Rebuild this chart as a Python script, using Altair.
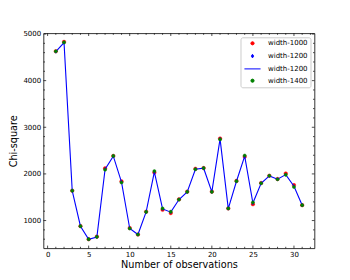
import altair as alt
import pandas as pd

obs = list(range(1, 32))
chi_1000 = [4630, 4830, 1640, 880, 600, 655, 2120, 2385, 1840, 840, 700, 1190, 2030, 1230, 1160,
            1455, 1620, 2110, 2125, 1620, 2760, 1260, 1850, 2370, 1350, 1805, 1960, 1890, 2010, 1760, 1330]
chi_1200 = [4620, 4815, 1635, 878, 599, 648, 2100, 2380, 1825, 830, 700, 1185, 2045, 1250, 1180,
            1450, 1614, 2100, 2122, 1614, 2750, 1257, 1843, 2380, 1375, 1800, 1957, 1886, 1985, 1735, 1328]
chi_1400 = [4630, 4820, 1640, 880, 600, 650, 2090, 2385, 1815, 830, 700, 1185, 2060, 1260, 1190,
            1450, 1615, 2100, 2125, 1615, 2740, 1260, 1845, 2395, 1390, 1800, 1960, 1885, 1980, 1720, 1330]

series = ["width-1000", "width-1200", "width-1200 ", "width-1400"]
fills = ["#ff0000", "#0000ff", "#0000ff", "#008000"]
shapes = ["circle", "M0,-1.15L0.7,0L0,1.15L-0.7,0Z", "M-5.1,0H5.1", "circle"]

x_major = [0, 5, 10, 15, 20, 25, 30]
x_minor = [v for v in range(0, 33) if v % 5 != 0]
y_major = [1000, 2000, 3000, 4000, 5000]
y_minor = [v for v in range(600, 5000, 200) if v % 1000 != 0]

W, H = 271, 215
MAJ, MIN = 2.7, 1.5

rows = []
for name, vals in [(series[0], chi_1000), (series[1], chi_1200), (series[3], chi_1400)]:
    for xv, yv in zip(obs, vals):
        rows.append({"s": name, "x": xv, "y": yv})
df = pd.DataFrame(rows)

xs = alt.Scale(domain=[-0.5, 32.5], nice=False, zero=False)
ys = alt.Scale(domain=[405, 5015], nice=False, zero=False)

xaxis = alt.Axis(values=x_major, format="d", ticks=False, tickSize=0, domain=False, grid=False,
                 labelFontSize=7, labelPadding=2.5, labelColor="black",
                 title="Number of observations", titleFontSize=9.7, titleFontWeight="normal",
                 titlePadding=2, titleColor="black")
yaxis = alt.Axis(values=y_major, format="d", ticks=False, tickSize=0, domain=False, grid=False,
                 labelFontSize=7, labelPadding=2.8, labelColor="black",
                 title="Chi-square", titleFontSize=9.7, titleFontWeight="normal",
                 titlePadding=4, titleColor="black")

leg = alt.Legend(title=None, orient="top-right", offset=4, padding=2.5, rowPadding=3.8,
                 labelFontSize=7, labelColor="black", labelExpr="trim(datum.label)",
                 symbolSize=10, symbolStrokeWidth=1, labelOffset=12, symbolOffset=6,
                 strokeColor="#cccccc", fillColor="white", cornerRadius=2)

enc = dict(
    x=alt.X("x:Q", scale=xs, axis=xaxis),
    y=alt.Y("y:Q", scale=ys, axis=yaxis),
    fill=alt.Fill("s:N", scale=alt.Scale(domain=series, range=fills), legend=leg),
    stroke=alt.Stroke("s:N", scale=alt.Scale(domain=series, range=fills), legend=leg),
    shape=alt.Shape("s:N", scale=alt.Scale(domain=series, range=shapes), legend=leg),
)

base = alt.Chart(df)
red = base.transform_filter(alt.datum.s == series[0]).mark_point(size=13, strokeWidth=0.4, opacity=1).encode(**enc)
blue = base.transform_filter(alt.datum.s == series[1]).mark_point(size=8, strokeWidth=0.4, opacity=1).encode(**enc)
green = base.transform_filter(alt.datum.s == series[3]).mark_point(size=10, strokeWidth=0.4, opacity=1).encode(**enc)
line = base.transform_filter(alt.datum.s == series[1]).mark_line(color="#0000ff", strokeWidth=1.1).encode(
    x=alt.X("x:Q", scale=xs, axis=xaxis), y=alt.Y("y:Q", scale=ys, axis=yaxis))


def xticks(vals, length, top):
    d = pd.DataFrame({"x": vals})
    if top:
        yy, yy2 = alt.value(0), alt.value(length)
    else:
        yy, yy2 = alt.value(H), alt.value(H - length)
    return alt.Chart(d).mark_rule(color="black", strokeWidth=0.7).encode(
        x=alt.X("x:Q", scale=xs, axis=xaxis), y=yy, y2=yy2)


def yticks(vals, length, right):
    d = pd.DataFrame({"y": vals})
    if right:
        xx, xx2 = alt.value(W), alt.value(W - length)
    else:
        xx, xx2 = alt.value(0), alt.value(length)
    return alt.Chart(d).mark_rule(color="black", strokeWidth=0.7).encode(
        y=alt.Y("y:Q", scale=ys, axis=yaxis), x=xx, x2=xx2)


ticks = [xticks(x_major, MAJ, False), xticks(x_minor, MIN, False),
         xticks(x_major, MAJ, True), xticks(x_minor, MIN, True),
         yticks(y_major, MAJ, False), yticks(y_minor, MIN, False),
         yticks(y_major, MAJ, True), yticks(y_minor, MIN, True)]

chart = alt.layer(*ticks, red, blue, line, green).properties(
    width=W, height=H,
    autosize=alt.AutoSizeParams(type="none"),
    padding={"left": 35.5, "top": 25.3, "right": 27, "bottom": 23},
).configure(font="DejaVu Sans").configure_view(stroke="black", strokeWidth=0.8)

chart.save("out.html", embed_options={"renderer": "svg", "actions": False})
